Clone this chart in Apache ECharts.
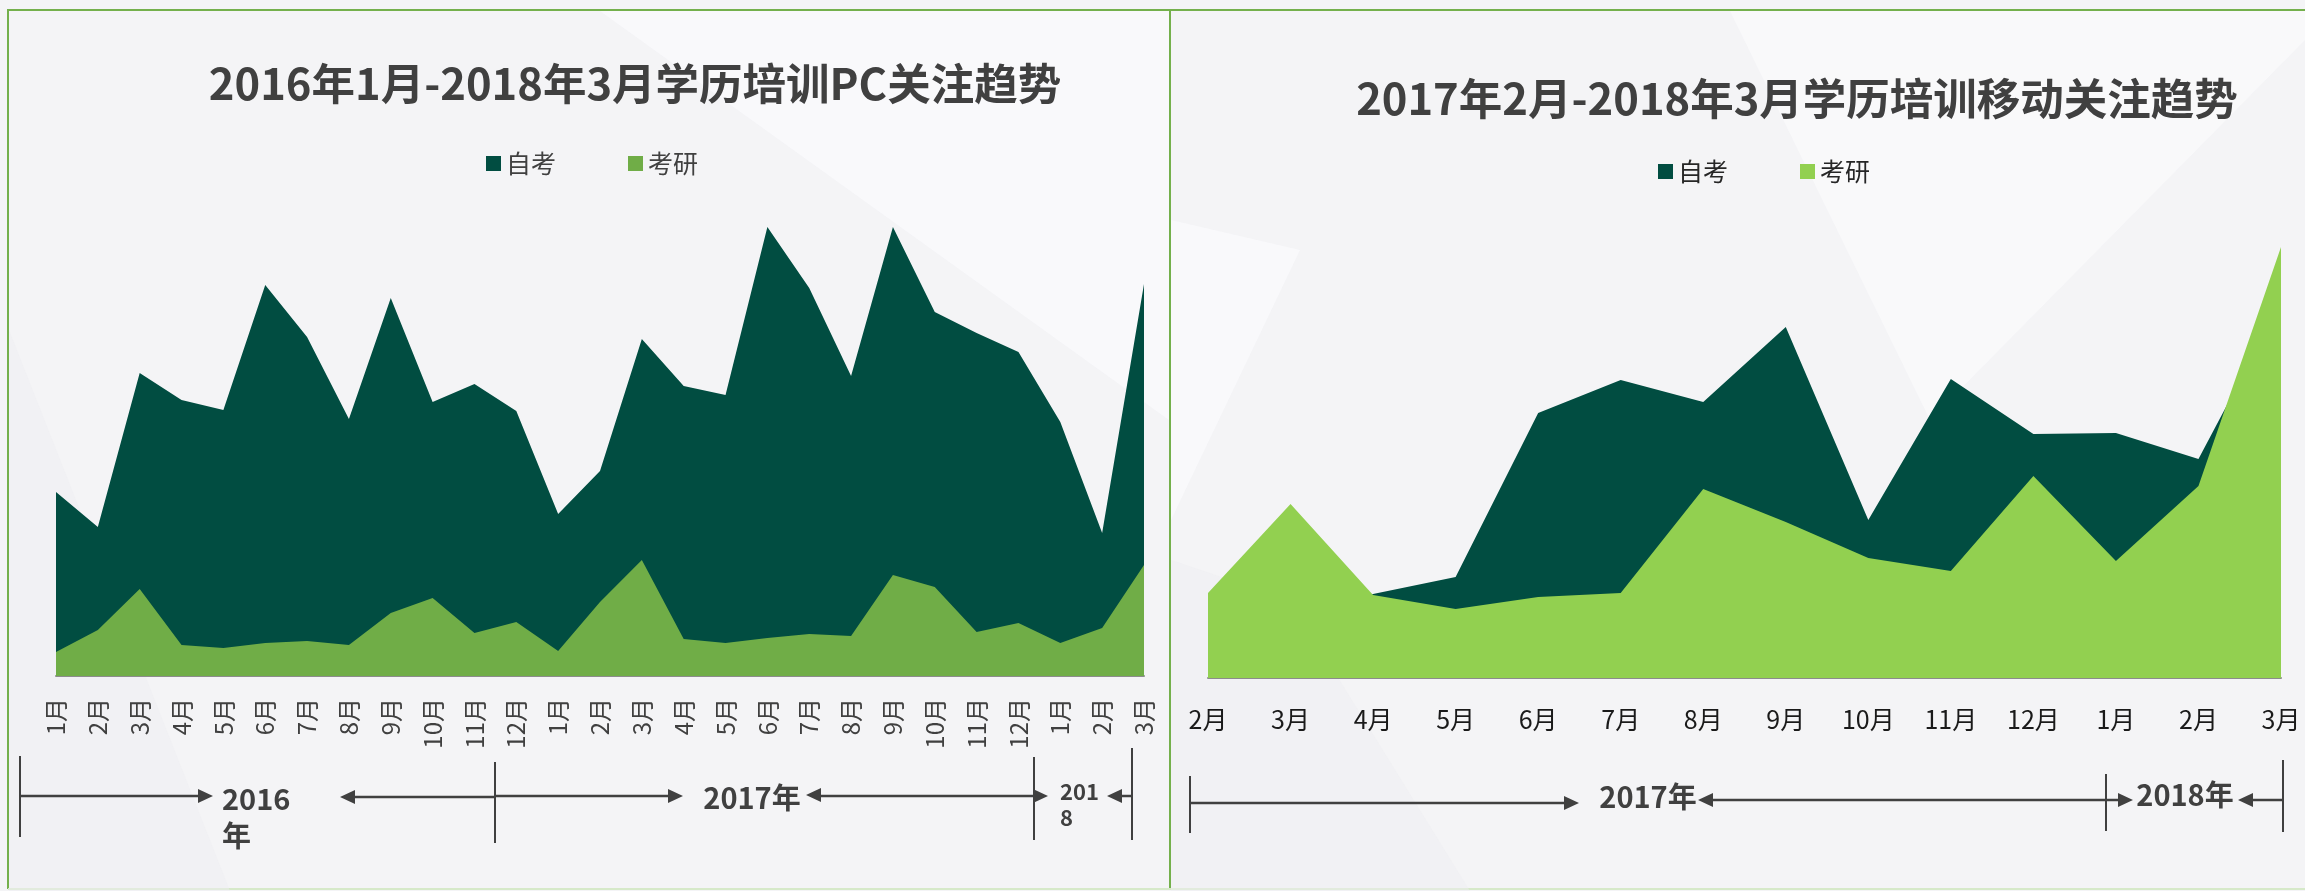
<!DOCTYPE html>
<html>
<head>
<meta charset="utf-8">
<script src="https://cdn.jsdelivr.net/npm/echarts@6/dist/echarts.min.js"></script>
<style>
  html, body { margin: 0; padding: 0; background: #f4f4f6; overflow: hidden; }
  #wrap { position: relative; width: 2305px; height: 891px; }
  .ln { position: absolute; }
  #pc { position: absolute; left: 0; top: 0; width: 1170px; height: 891px; }
  #mobile { position: absolute; left: 1170px; top: 0; width: 1135px; height: 891px; }
</style>
</head>
<body>
<div id="wrap">
  <div class="ln" style="left:8px;top:9px;width:2297px;height:2px;background:#74b04c;"></div>
  <div class="ln" style="left:7px;top:9px;width:2px;height:880px;background:#74b04c;"></div>
  <div class="ln" style="left:1169px;top:9px;width:2px;height:880px;background:#74b04c;"></div>
  <div class="ln" style="left:8px;top:888px;width:2297px;height:2px;background:#d6e9c9;"></div>
  <div id="pc"></div>
  <div id="mobile"></div>
</div>
<script>
// PC 2016.1 - 2018.3
var pcMonths = ['1月','2月','3月','4月','5月','6月','7月','8月','9月','10月','11月','12月',
                '1月','2月','3月','4月','5月','6月','7月','8月','9月','10月','11月','12月',
                '1月','2月','3月'];
var pcZikao = [184,149,303,276,266,391,339,257,378,274,292,265,162,205,337,290,281,449,388,300,449,364,343,324,254,143,392];
var pcKaoyan = [24,46,87,31,28,33,35,31,63,78,43,54,25,74,116,37,33,38,42,40,101,89,44,53,33,48,111];

// 移动 2017.2 - 2018.3
var mobileMonths = ['2月','3月','4月','5月','6月','7月','8月','9月','10月','11月','12月','1月','2月','3月'];
var mobileZikao = [64,71,84,101,265,298,276,351,158,299,244,245,219,375];
var mobileKaoyan = [85,174,83,69,81,85,189,156,120,107,202,117,192,431];

var FONT = '"Noto Sans CJK SC", "Noto Sans", sans-serif';
var INK = '#404040';
var DARK = '#014d41';

function vLine(x, y1, y2) {
    return { type: 'line', shape: { x1: x, y1: y1, x2: x, y2: y2 }, style: { stroke: INK, lineWidth: 2 }, z: 10 };
}
function hLine(x1, x2, y) {
    return { type: 'line', shape: { x1: x1, y1: y, x2: x2, y2: y }, style: { stroke: INK, lineWidth: 2.5 }, z: 10 };
}
// dir = 1 points right, -1 points left
function head(tip, y, dir) {
    return { type: 'polygon', shape: { points: [[tip, y], [tip - dir * 15, y - 7], [tip - dir * 15, y + 7]] },
             style: { fill: INK }, z: 10 };
}
function label(text, x, y, size, align, lh) {
    return { type: 'text', x: x, y: y, z: 10,
             style: { text: text, fontSize: size, fontWeight: 'bold', fontFamily: FONT, fill: INK,
                      align: align, verticalAlign: align == 'center' ? 'middle' : 'top', lineHeight: lh || size * 1.2 } };
}
function poly(pts, c) {
    return { type: 'polygon', shape: { points: pts }, style: { fill: c }, z: -10, silent: true };
}

function areaSeries(name, data, color) {
    return {
        name: name, type: 'line', data: data, symbol: 'none',
        lineStyle: { width: 0 }, areaStyle: { color: color, opacity: 1 },
        itemStyle: { color: color }
    };
}

var pcChart = echarts.init(document.getElementById('pc'));
pcChart.setOption({
    animation: false,
    textStyle: { fontFamily: FONT },
    title: {
        text: '2016年1月-2018年3月学历培训PC关注趋势',
        left: 630, top: 57, textAlign: 'center',
        textStyle: { fontSize: 43.5, fontWeight: 'bold', color: INK, fontFamily: FONT }
    },
    legend: {
        left: 481, top: 146, itemWidth: 15, itemHeight: 15, itemGap: 72, icon: 'rect',
        textStyle: { fontSize: 25, color: INK, fontFamily: FONT },
        data: ['自考', '考研']
    },
    grid: { left: 56, right: 26, top: 176, bottom: 215 },
    xAxis: {
        type: 'category', boundaryGap: false, data: pcMonths,
        axisLine: { lineStyle: { color: '#8c8c8c', width: 2 } },
        axisTick: { show: false },
        axisLabel: { interval: 0, rotate: 90, margin: 22, fontSize: 24, color: INK, fontFamily: FONT }
    },
    yAxis: { type: 'value', min: 0, max: 500, show: false },
    series: [areaSeries('自考', pcZikao, DARK), areaSeries('考研', pcKaoyan, '#70ad47')],
    graphic: [
        poly([[9, 330], [230, 891], [9, 891]], 'rgba(238,238,241,0.5)'),
        poly([[600, 11], [1169, 11], [1169, 420]], 'rgba(251,251,253,0.7)'),
        vLine(20, 756, 837), hLine(20, 200, 796), head(213, 796, 1),
        label('2016\n年', 222, 780, 29, 'left', 37),
        head(340, 797, -1), hLine(352, 495, 797),
        vLine(495, 762, 843), hLine(495, 670, 796), head(683, 796, 1),
        label('2017年', 752, 798, 29, 'center'),
        head(806, 795, -1), hLine(818, 1036, 796), vLine(1034, 757, 840), head(1048, 796, 1),
        label('201\n8', 1060, 779, 22, 'left', 26),
        head(1107, 796, -1), hLine(1119, 1132, 796), vLine(1132, 748, 840)
    ]
});

var mobileChart = echarts.init(document.getElementById('mobile'));
mobileChart.setOption({
    animation: false,
    textStyle: { fontFamily: FONT },
    title: {
        text: '2017年2月-2018年3月学历培训移动关注趋势',
        left: 622, top: 72, textAlign: 'center',
        textStyle: { fontSize: 43.5, fontWeight: 'bold', color: INK, fontFamily: FONT }
    },
    legend: {
        left: 483, top: 154, itemWidth: 15, itemHeight: 15, itemGap: 72, icon: 'rect',
        textStyle: { fontSize: 25, color: '#262626', fontFamily: FONT },
        data: ['自考', '考研']
    },
    grid: { left: 38, right: 24, top: 178, bottom: 213 },
    xAxis: {
        type: 'category', boundaryGap: false, data: mobileMonths,
        axisLine: { lineStyle: { color: '#8c8c8c', width: 2 } },
        axisTick: { show: false },
        axisLabel: { interval: 0, margin: 29, fontSize: 25, color: '#1a1a1a', fontFamily: FONT }
    },
    yAxis: { type: 'value', min: 0, max: 500, show: false },
    series: [areaSeries('自考', mobileZikao, DARK), areaSeries('考研', mobileKaoyan, '#92d050')],
    graphic: [
        poly([[1, 220], [130, 250], [1, 520]], 'rgba(251,251,253,0.7)'),
        poly([[1, 560], [120, 600], [300, 891], [1, 891]], 'rgba(238,238,241,0.5)'),
        poly([[560, 11], [1135, 11], [1135, 40], [760, 420]], 'rgba(251,251,253,0.6)'),
        vLine(20, 776, 833), hLine(20, 396, 803), head(409, 803, 1),
        label('2017年', 478, 797, 29, 'center'),
        head(528, 800, -1), hLine(540, 951, 800), vLine(936, 774, 831), head(963, 800, 1),
        label('2018年', 1015, 795, 29, 'center'),
        head(1068, 800, -1), hLine(1080, 1113, 800), vLine(1113, 760, 832)
    ]
});
</script>
</body>
</html>
